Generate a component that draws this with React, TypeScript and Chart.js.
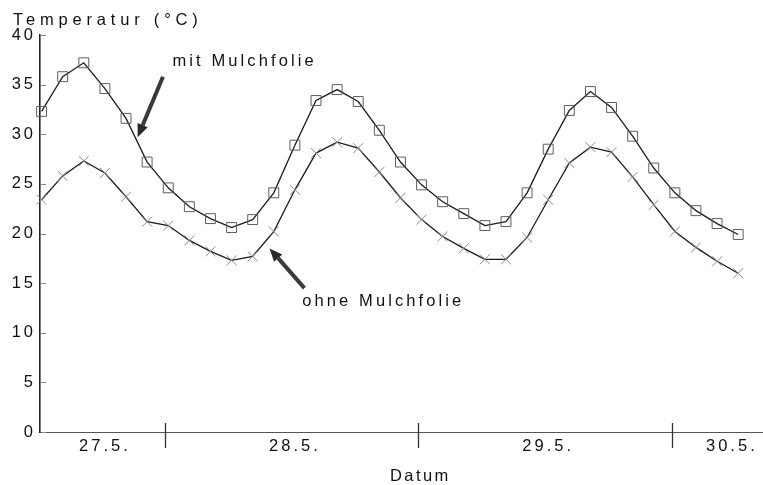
import React, { useEffect, useRef } from 'react';
import { Chart, registerables } from 'chart.js';

Chart.register(...registerables);

// hours since 27.5. 00:00 (two-hourly readings)
const hours = [12, 14, 16, 18, 20, 22, 24, 26, 28, 30, 32, 34, 36, 38, 40, 42, 44, 46, 48, 50, 52, 54, 56, 58, 60, 62, 64, 66, 68, 70, 72, 74, 76, 78];

const mitMulchfolie = [32.3, 35.8, 37.2, 34.6, 31.6, 27.2, 24.6, 22.7, 21.5, 20.6, 21.4, 24.1, 28.9, 33.4, 34.5, 33.3, 30.4, 27.2, 24.9, 23.2, 22.0, 20.8, 21.2, 24.1, 28.5, 32.4, 34.3, 32.7, 29.8, 26.6, 24.1, 22.3, 21.0, 19.9];

const ohneMulchfolie = [23.4, 25.8, 27.3, 26.1, 23.7, 21.2, 20.8, 19.3, 18.2, 17.3, 17.7, 20.2, 24.4, 28.1, 29.2, 28.6, 26.2, 23.6, 21.4, 19.7, 18.5, 17.4, 17.4, 19.6, 23.4, 27.1, 28.7, 28.2, 25.7, 22.9, 20.2, 18.6, 17.2, 16.0];

const dayLabels = ['27.5.', '28.5.', '29.5.', '30.5.'];
const dayLabelHours = [18, 36, 60, 77.4];
const dayBoundaries = [23.7, 47.7, 71.7];
const yTicks = [0, 5, 10, 15, 20, 25, 30, 35, 40];

const FONT = '"Liberation Sans", Arial, Helvetica, sans-serif';
const FSIZE = 16.5;
const TEXT = '#111111';
const SPACING = '3px';

function drawArrow(ctx: CanvasRenderingContext2D, x1: number, y1: number, x2: number, y2: number) {
  const ang = Math.atan2(y2 - y1, x2 - x1);
  const headLen = 13;
  const headW = 5.5;
  const bx = x2 - headLen * Math.cos(ang);
  const by = y2 - headLen * Math.sin(ang);
  ctx.save();
  ctx.strokeStyle = '#3a3a3a';
  ctx.fillStyle = '#2a2a2a';
  ctx.lineWidth = 4;
  ctx.lineCap = 'butt';
  ctx.beginPath();
  ctx.moveTo(x1, y1);
  ctx.lineTo(bx, by);
  ctx.stroke();
  ctx.beginPath();
  ctx.moveTo(x2, y2);
  ctx.lineTo(bx + headW * Math.sin(ang), by - headW * Math.cos(ang));
  ctx.lineTo(bx - headW * Math.sin(ang), by + headW * Math.cos(ang));
  ctx.closePath();
  ctx.fill();
  ctx.restore();
}

const decorPlugin = {
  id: 'decor',
  beforeLayout(chart: any) {
    chart.ctx.letterSpacing = SPACING;
  },
  beforeDraw(chart: any) {
    const ctx = chart.ctx;
    ctx.save();
    ctx.fillStyle = '#ffffff';
    ctx.fillRect(0, 0, chart.width, chart.height);
    ctx.restore();
    ctx.letterSpacing = SPACING;
  },
  afterDraw(chart: any) {
    const ctx: CanvasRenderingContext2D = chart.ctx;
    const xs = chart.scales.x;
    const ys = chart.scales.y;
    const area = chart.chartArea;
    ctx.save();
    // small y tick marks inside the axis
    ctx.strokeStyle = '#8a8a8a';
    ctx.lineWidth = 1;
    yTicks.forEach((v) => {
      const y = Math.round(ys.getPixelForValue(v)) + 0.5;
      ctx.beginPath();
      ctx.moveTo(area.left + 1, y);
      ctx.lineTo(area.left + 6, y);
      ctx.stroke();
    });
    // day separators
    ctx.strokeStyle = '#333';
    ctx.lineWidth = 1.3;
    dayBoundaries.forEach((h) => {
      const x = Math.round(xs.getPixelForValue(h)) + 0.5;
      ctx.beginPath();
      ctx.moveTo(x, area.bottom - 9);
      ctx.lineTo(x, area.bottom + 16);
      ctx.stroke();
    });
    // arrows
    drawArrow(ctx, xs.getPixelForValue(23.5), ys.getPixelForValue(35.8), xs.getPixelForValue(21.1), ys.getPixelForValue(29.7));
    drawArrow(ctx, xs.getPixelForValue(36.9), ys.getPixelForValue(14.5), xs.getPixelForValue(33.6), ys.getPixelForValue(18.5));
    // texts
    ctx.fillStyle = TEXT;
    ctx.textBaseline = 'alphabetic';
    ctx.textAlign = 'left';
    ctx.font = FSIZE + 'px ' + FONT;
    (ctx as any).letterSpacing = '3.1px';
    ctx.fillText('mit Mulchfolie', xs.getPixelForValue(24.4), ys.getPixelForValue(36.9));
    (ctx as any).letterSpacing = '3.1px';
    ctx.fillText('ohne Mulchfolie', xs.getPixelForValue(36.7), ys.getPixelForValue(12.7));
    (ctx as any).letterSpacing = '4.8px';
    ctx.fillText('Temperatur (°C)', area.left - 27, area.top - 10);
    (ctx as any).letterSpacing = '2.4px';
    ctx.fillText('Datum', area.left + 350, chart.height - 4);
    ctx.restore();
    ctx.letterSpacing = SPACING;
  },
};

export default function App() {
  const canvasRef = useRef<HTMLCanvasElement | null>(null);

  useEffect(() => {
    document.body.style.margin = '0';
    const canvas = canvasRef.current;
    if (!canvas) return;
    const chart = new Chart(canvas, {
      type: 'line',
      data: {
        datasets: [
          {
            label: 'mit Mulchfolie',
            data: hours.map((h, i) => ({ x: h, y: mitMulchfolie[i] })),
            borderColor: '#1c1c1c',
            borderWidth: 1.3,
            tension: 0,
            clip: false,
            pointStyle: 'rect',
            pointRadius: 7,
            pointBorderColor: '#5e5e5e',
            pointBorderWidth: 1,
            pointBackgroundColor: 'rgba(0,0,0,0)',
          },
          {
            label: 'ohne Mulchfolie',
            data: hours.map((h, i) => ({ x: h, y: ohneMulchfolie[i] })),
            borderColor: '#1c1c1c',
            borderWidth: 1.3,
            tension: 0,
            clip: false,
            pointStyle: 'crossRot',
            pointRadius: 7,
            pointBorderColor: '#8a8a8a',
            pointBorderWidth: 1,
            pointBackgroundColor: 'rgba(0,0,0,0)',
          },
        ],
      },
      options: {
        animation: false,
        responsive: false,
        devicePixelRatio: 1,
        layout: { autoPadding: false, padding: { top: 35, right: 0, left: 0, bottom: 0 } },
        plugins: {
          legend: { display: false },
          tooltip: { enabled: false },
          title: { display: false },
        },
        scales: {
          x: {
            type: 'linear',
            min: 11.85,
            max: 80.35,
            grid: { display: false, drawTicks: false },
            border: { display: true, color: '#555', width: 1 },
            afterBuildTicks: (scale: any) => {
              scale.ticks = dayLabelHours.map((v) => ({ value: v }));
            },
            afterFit: (scale: any) => {
              scale.height = 53;
              scale.paddingLeft = 0;
              scale.paddingRight = 0;
            },
            ticks: {
              autoSkip: false,
              maxRotation: 0,
              padding: 5,
              color: TEXT,
              font: { family: FONT, size: FSIZE },
              callback: (_v: any, i: number) => dayLabels[i],
            },
          },
          y: {
            type: 'linear',
            min: 0,
            max: 40,
            grid: { display: false, drawTicks: false },
            border: { display: true, color: '#222', width: 1.6 },
            afterBuildTicks: (scale: any) => {
              scale.ticks = yTicks.map((v) => ({ value: v }));
            },
            afterFit: (scale: any) => {
              scale.width = 40;
            },
            ticks: {
              padding: 4,
              color: TEXT,
              font: { family: FONT, size: FSIZE },
            },
          },
        },
      },
      plugins: [decorPlugin],
    });
    return () => chart.destroy();
  }, []);

  return (
    <div style={{ width: 763, height: 485, background: '#fff' }}>
      <canvas ref={canvasRef} width={763} height={485} style={{ display: 'block' }} />
    </div>
  );
}
